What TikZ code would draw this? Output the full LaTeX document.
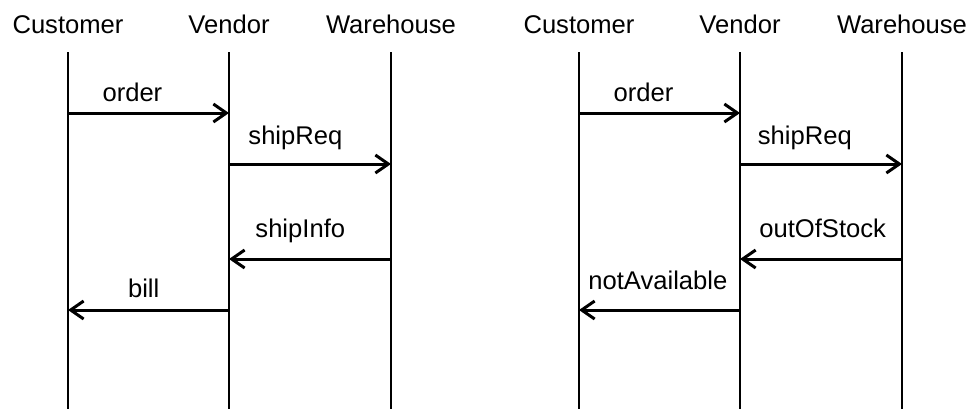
\documentclass[tikz,border=0pt]{standalone}
\usepackage{fontspec}
\setmainfont{Liberation Sans}
\usetikzlibrary{arrows.meta}
\begin{document}
\begin{tikzpicture}[x=0.5pt,y=-0.5pt,font=\fontsize{12.8}{15}\selectfont,
		life/.style={line width=1pt},
		msg/.style={line width=1.5pt,-{Straight Barb[length=6.5pt,width=9pt,line width=1.5pt]}},
		lbl/.style={anchor=base}]
	\useasboundingbox (0,0) rectangle (972,409);
	% heads and lifelines
	\foreach \n/\x/\t in {c1/68/Customer,v1/229/Vendor,w1/391/Warehouse,c2/579/Customer,v2/740/Vendor,w2/902/Warehouse}{
		\node[lbl] (\n) at (\x,33) {\t};
		\coordinate (\n top) at (\x,52);
		\coordinate (\n bot) at (\x,409);
		\draw[life] (\n top) -- (\n bot);
	}
	% left: order shipped
	\draw[msg] (c1top |- 0,113) -- (v1top |- 0,113) node[lbl,pos=0.40,yshift=6pt]{order};
	\draw[msg] (v1top |- 0,164) -- (w1top |- 0,164) node[lbl,pos=0.41,yshift=10pt]{shipReq};
	\draw[msg] (w1top |- 0,259) -- (v1top |- 0,259) node[lbl,pos=0.56,yshift=11pt]{shipInfo};
	\draw[msg] (v1top |- 0,310) -- (c1top |- 0,310) node[lbl,pos=0.53,yshift=6.5pt]{bill};
	% right: out of stock
	\draw[msg] (c2top |- 0,113) -- (v2top |- 0,113) node[lbl,pos=0.40,yshift=6pt]{order};
	\draw[msg] (v2top |- 0,164) -- (w2top |- 0,164) node[lbl,pos=0.40,yshift=10pt]{shipReq};
	\draw[msg] (w2top |- 0,259) -- (v2top |- 0,259) node[lbl,pos=0.49,yshift=11pt]{outOfStock};
	\draw[msg] (v2top |- 0,310) -- (c2top |- 0,310) node[lbl,pos=0.51,yshift=10.5pt]{notAvailable};
\end{tikzpicture}
\end{document}
